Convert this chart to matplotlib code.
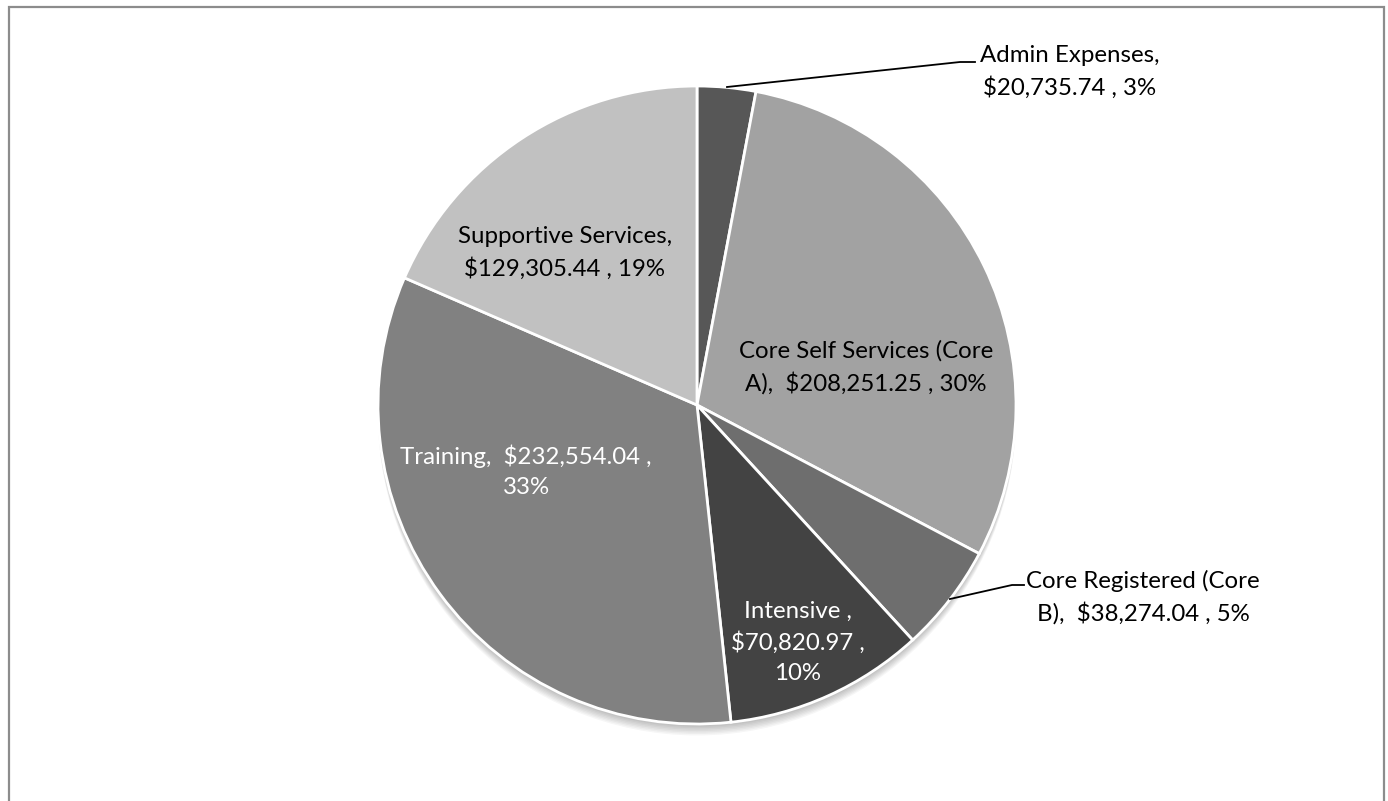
import numpy as np
import matplotlib
matplotlib.use("Agg")
import matplotlib.pyplot as plt
from matplotlib.patches import Rectangle, Circle

plt.rcParams['font.family'] = ['Lato', 'DejaVu Sans']

# spending by category, clockwise from 12 o'clock
names = ["Admin Expenses", "Core Self Services (Core\nA)", "Core Registered (Core\nB)",
         "Intensive ", "Training", "Supportive Services"]
amounts = [20735.74, 208251.25, 38274.04, 70820.97, 232554.04, 129305.44]
colors = ["#575757", "#a2a2a2", "#6e6e6e", "#434343", "#818181", "#c1c1c1"]
label_fmt = ["{n},\n{v} , {p}", "{n},  {v} , {p}", "{n},  {v} , {p}",
             "{n},\n{v} ,\n{p}", "{n},  {v} ,\n{p}", "{n},\n{v} , {p}"]
text_colors = ["black", "black", "black", "white", "white", "black"]


def whole_percents(vals):
    # round to whole percents that still add up to 100 (largest remainder)
    raw = np.array(vals) / sum(vals) * 100
    out = np.floor(raw).astype(int)
    short = 100 - out.sum()
    for i in np.argsort(-(raw - out))[:short]:
        out[i] += 1
    return out


pcts = whole_percents(amounts)
labels = [f.format(n=n, v=f"${a:,.2f}", p=f"{p}%")
          for f, n, a, p in zip(label_fmt, names, amounts, pcts)]

W, H = 1388, 801
fig = plt.figure(figsize=(W / 100, H / 100), dpi=100)

# pie centre and radius in pixels
cx, cy, r = 697, 405, 319
ax = fig.add_axes([(cx - r) / W, (H - cy - r) / H, 2 * r / W, 2 * r / H])


def px(x, y):
    return ((x - cx) / r, (cy - y) / r)


# soft drop shadow under the pie
for k in range(1, 9):
    ax.add_patch(Circle((0.0, -0.0045 * k), 1.0, color="black",
                        alpha=0.035, lw=0, zorder=0, clip_on=False))

wedges, _ = ax.pie(amounts, colors=colors, startangle=90, counterclock=False,
                   radius=1.0, wedgeprops=dict(edgecolor="white", linewidth=2))
for w in wedges:
    w.set_zorder(2)
    w.set_clip_on(False)

label_pos = [(1070, 72), (866, 367), (1143, 597), (798, 642), (526, 471), (565, 253)]
for lab, (x, y), tc in zip(labels, label_pos, text_colors):
    ax.text(*px(x, y), lab, ha="center", va="center", fontsize=17.3,
            color=tc, linespacing=1.52, zorder=5, clip_on=False)

# leader lines for the two outside labels
leaders = [[(727, 87), (960, 62), (975, 62)], [(950, 599), (1012, 585), (1024, 585)]]
for pts in leaders:
    xs, ys = zip(*[px(*p) for p in pts])
    ax.plot(xs, ys, color="black", lw=1.3, zorder=4, clip_on=False)

ax.set_xlim(-1, 1)
ax.set_ylim(-1, 1)
ax.set_aspect("equal")
ax.axis("off")

# chart border (bottom edge falls outside the image)
fig.add_artist(Rectangle((9 / W, -0.05), (1384 - 9) / W, (H - 7) / H + 0.05,
                         transform=fig.transFigure, fill=False,
                         edgecolor="#8c8c8c", lw=1.6))

fig.savefig("out.png", dpi=100)
